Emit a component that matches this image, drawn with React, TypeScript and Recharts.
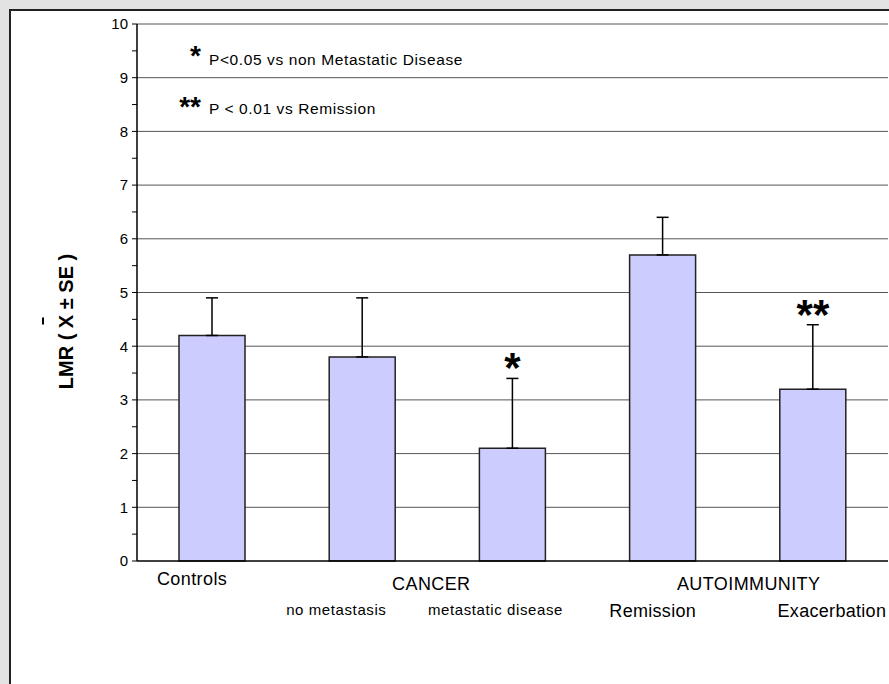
import { ComposedChart, Bar, Line, XAxis, YAxis, CartesianGrid, ErrorBar, LabelList, Label } from "recharts";

const categories = ["Controls", "no metastasis", "metastatic disease", "Remission", "Exacerbation"];
const lmrMean = [4.2, 3.8, 2.1, 5.7, 3.2];
const lmrSE = [0.7, 1.1, 1.3, 0.7, 1.2];
const significance = ["", "", "*", "", "**"];
const groupLabels = ["Controls", "CANCER", "", "AUTOIMMUNITY", ""];
const subLabels = ["", "no metastasis", "metastatic disease", "Remission", "Exacerbation"];
const yTicks = [0, 0.5, 1, 1.5, 2, 2.5, 3, 3.5, 4, 4.5, 5, 5.5, 6, 6.5, 7, 7.5, 8, 8.5, 9, 9.5, 10];
const gridValues = [1, 2, 3, 4, 5, 6, 7, 8, 9, 10];
const noteMarks = ["*", "**"];
const noteTexts = ["P<0.05 vs non Metastatic Disease", "P < 0.01 vs Remission"];

const FONT = "'Liberation Sans', Arial, sans-serif";

const data = categories.map((name, i) => ({
  name,
  mean: lmrMean[i],
  err: [0, lmrSE[i]],
  top: lmrMean[i] + lmrSE[i],
  sig: significance[i],
}));

// label placement under the axis (px offsets from the category centre)
const groupDx = [-20, 69, 0, 86, 0];
const groupDy = [24, 29, 0, 29, 0];
const subDx = [0, -26, -17, -10, 19];
const subSmall = [false, true, true, false, false];

function XTick({ x, y, payload }: any) {
  const i = categories.indexOf(payload.value);
  return (
    <g fontFamily={FONT} fill="#000">
      {groupLabels[i] && (
        <text x={x + groupDx[i]} y={y + groupDy[i]} textAnchor="middle" fontSize={18} letterSpacing={0.4}>
          {groupLabels[i]}
        </text>
      )}
      {subLabels[i] && (
        <text
          x={x + subDx[i]}
          y={y + (subSmall[i] ? 54 : 56)}
          textAnchor="middle"
          fontSize={subSmall[i] ? 15 : 18}
          letterSpacing={subSmall[i] ? 0.6 : 0.3}
        >
          {subLabels[i]}
        </text>
      )}
    </g>
  );
}

function YTitle({ viewBox }: any) {
  const cx = viewBox.x + 73;
  const cy = viewBox.y + viewBox.height / 2 + 29;
  return (
    <g transform={`rotate(-90, ${cx}, ${cy})`}>
      <text x={cx} y={cy} textAnchor="middle" fontFamily={FONT} fontWeight="bold" fontSize={20} fill="#000">
        LMR ( X ± SE )
      </text>
      <line x1={cx - 3} y1={cy - 30} x2={cx + 4} y2={cy - 30} stroke="#000" strokeWidth={2} />
    </g>
  );
}

export default function App() {
  return (
    <div style={{ position: "fixed", left: 0, top: 0, width: 889, height: 684, background: "#e3e3e3", overflow: "hidden" }}>
      <div
        style={{
          position: "absolute",
          left: 9,
          top: 9,
          width: 900,
          height: 700,
          background: "#fff",
          borderLeft: "2px solid #222",
          borderTop: "2px solid #222",
        }}
      />
      <div style={{ position: "absolute", left: 0, top: 0 }}>
        <ComposedChart width={889} height={684} data={data} margin={{ top: 24, right: 1, bottom: 53, left: 0 }}>
          <CartesianGrid yAxisId="y" vertical={false} horizontalValues={gridValues} stroke="#555" strokeWidth={1} />
          <XAxis
            dataKey="name"
            height={70}
            axisLine={{ stroke: "#000", strokeWidth: 1.5 }}
            tickLine={false}
            tickSize={0}
            tickMargin={0}
            interval={0}
            tick={<XTick />}
          />
          <YAxis
            yAxisId="y"
            width={137}
            domain={[0, 10]}
            ticks={yTicks}
            interval={0}
            tickFormatter={(v: number) => (Number.isInteger(v) ? String(v) : "")}
            tickSize={5}
            tickMargin={4}
            axisLine={{ stroke: "#000", strokeWidth: 1.5 }}
            tickLine={{ stroke: "#000" }}
            tick={{ fontSize: 15, fill: "#000", fontFamily: FONT }}
          >
            <Label content={<YTitle />} />
          </YAxis>
          <YAxis
            yAxisId="r"
            orientation="right"
            width={0}
            domain={[0, 10]}
            tick={false}
            tickLine={false}
            axisLine={{ stroke: "#888", strokeWidth: 1.5 }}
          />
          <Bar yAxisId="y" dataKey="mean" fill="#ccccff" stroke="#222" strokeWidth={1.5} barSize={66} isAnimationActive={false}>
            <ErrorBar dataKey="err" width={6} stroke="#000" strokeWidth={1.5} direction="y" isAnimationActive={false} />
          </Bar>
          <Line
            yAxisId="y"
            dataKey="top"
            stroke="none"
            dot={false}
            activeDot={false}
            legendType="none"
            isAnimationActive={false}
          >
            <LabelList
              dataKey="sig"
              position="top"
              offset={-4}
              fontSize={42}
              fontWeight="bold"
              fontFamily={FONT}
              fill="#000"
            />
          </Line>
        </ComposedChart>
      </div>
      <svg width={889} height={684} style={{ position: "absolute", left: 0, top: 0, pointerEvents: "none" }}>
        <g fontFamily={FONT} fill="#000">
          <text x={201} y={65} textAnchor="end" fontSize={28} fontWeight="bold">{noteMarks[0]}</text>
          <text x={209} y={65} fontSize={15.5} letterSpacing={0.6}>{noteTexts[0]}</text>
          <text x={201} y={116} textAnchor="end" fontSize={28} fontWeight="bold">{noteMarks[1]}</text>
          <text x={209} y={114} fontSize={15.5} letterSpacing={0.6}>{noteTexts[1]}</text>
        </g>
      </svg>
    </div>
  );
}
